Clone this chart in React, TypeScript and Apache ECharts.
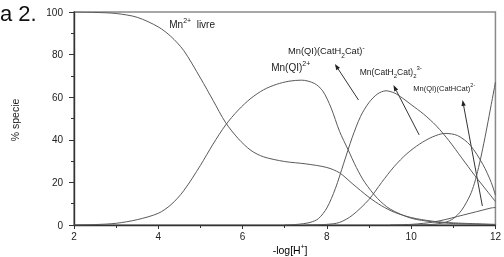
import React, { useEffect, useRef } from "react";
import * as echarts from "echarts";

// x: -log[H+], y: % specie
const phFree = [2, 2.5, 3, 3.5, 4, 4.3, 4.6, 5, 5.3, 5.6, 5.9, 6.2, 6.5, 7, 7.5, 8, 8.3, 8.6, 9, 9.3, 9.6, 10, 10.5, 11, 12];
const valFree = [100, 99.8, 99.3, 97.5, 93, 88.5, 82, 69, 58.5, 48, 40.5, 35, 32, 29.8, 28.7, 27, 24.5, 19.5, 13, 9, 6, 3.5, 1.8, 1, 0.3];

const phQI = [2, 2.5, 3, 3.5, 4, 4.3, 4.6, 5, 5.3, 5.6, 5.9, 6.2, 6.5, 6.8, 7.1, 7.4, 7.7, 7.9, 8.1, 8.3, 8.5, 8.7, 8.9, 9.2, 9.5, 10, 10.5, 11, 12];
const valQI = [0, 0.2, 0.8, 2.5, 5.5, 9.5, 16, 28, 38, 47, 54, 59.5, 63.5, 66, 67.5, 68, 66.5, 63, 55, 44, 35.5, 27, 20, 12.5, 7.5, 3.2, 1.5, 0.7, 0.2];

const phQICat = [7, 7.3, 7.6, 7.8, 8, 8.2, 8.4, 8.6, 8.8, 9, 9.2, 9.4, 9.6, 9.8, 10, 10.3, 10.6, 10.9, 11.2, 11.5, 11.8, 12];
const valQICat = [0, 0.3, 1.2, 3, 8, 17, 29, 41, 51, 57.5, 61.5, 63, 62, 59.5, 56.5, 52, 46.5, 39.5, 31.5, 23.5, 16, 11];

const phCat2 = [7.5, 8, 8.3, 8.6, 9, 9.3, 9.6, 9.9, 10.2, 10.5, 10.8, 11.1, 11.4, 11.7, 11.9, 12];
const valCat2 = [0, 0.3, 1.2, 4.5, 12, 20, 27.5, 33.5, 38, 41.3, 43, 42, 37.5, 28.5, 20, 14];

const phSteep = [10, 10.5, 10.8, 11, 11.2, 11.4, 11.5, 11.6, 11.7, 11.8, 11.9, 12];
const valSteep = [0, 0.3, 1.2, 3, 7, 14, 19.5, 27, 36, 46, 56.5, 67];

const phCatHCat = [9.5, 10, 10.3, 10.5, 10.8, 11.1, 11.4, 11.7, 11.9, 12];
const valCatHCat = [0, 0.3, 0.8, 1.3, 2.5, 4, 5.5, 7, 8, 8.2];

const xTickValues = [2, 4, 6, 8, 10, 12];
const yTickValues = [0, 20, 40, 60, 80, 100];

// annotation anchors in data coordinates [pH, %]
const labelAnchors = [
  { text: "{b11|Mn}{sup11|2+}{b11|  livre}", at: [4.26, 94.2] },
  { text: "{b11|Mn(QI)}{sup11|2+}", at: [6.68, 74] },
  { text: "{b9|Mn(QI)(CatH}{sub9|2}{b9|Cat)}{sup9|-}", at: [7.08, 81.5] },
  { text: "{b8|Mn(CatH}{sub8|2}{b8|Cat)}{sub8|2}{sup8|3-}", at: [8.78, 71.8] },
  { text: "{b7|Mn(QI)(CatHCat)}{sup7|2-}", at: [10.05, 64.3] },
];
const arrows = [
  { head: [8.19, 75.6], tail: [8.75, 58.7] },
  { head: [9.58, 65.7], tail: [10.19, 42.3] },
  { head: [11.22, 58.7], tail: [11.69, 8.9] },
];

const pairs = (xs: number[], ys: number[]) => xs.map((x, i) => [x, ys[i]]);

export default function App() {
  const ref = useRef<HTMLDivElement>(null);
  useEffect(() => {
    if (!ref.current) return;
    const chart = echarts.init(ref.current, undefined, { renderer: "svg" });
    const font = "'Liberation Sans', Arial, sans-serif";
    const lineStyle = { color: "#5a5a5a", width: 1 };
    const mk = (name: string, xs: number[], ys: number[]) => ({
      name,
      type: "line",
      data: pairs(xs, ys),
      showSymbol: false,
      symbol: "none",
      smooth: 0.3,
      lineStyle,
      clip: true,
      silent: true,
    });
    chart.setOption({
      animation: false,
      grid: {
        left: 74,
        right: 5,
        top: 12,
        bottom: 32,
        show: true,
        borderColor: "#8a8a8a",
        borderWidth: 1.5,
        backgroundColor: "transparent",
      },
      xAxis: {
        type: "value",
        min: 2,
        max: 12,
        interval: 2,
        axisLine: { show: true, onZero: false, lineStyle: { color: "#333", width: 1.4 } },
        axisTick: { show: true, inside: false, length: 4, lineStyle: { color: "#333" } },
        minorTick: { show: true, splitNumber: 2, length: 3, lineStyle: { color: "#333" } },
        splitLine: { show: false },
        axisLabel: {
          margin: 6,
          fontSize: 10,
          color: "#222",
          fontFamily: font,
          formatter: (v: number) => (xTickValues.includes(v) ? String(v) : ""),
        },
      },
      yAxis: {
        type: "value",
        min: 0,
        max: 100,
        interval: 20,
        axisLine: { show: true, onZero: false, lineStyle: { color: "#333", width: 1.4 } },
        axisTick: { show: true, inside: false, length: 5, lineStyle: { color: "#333" } },
        minorTick: { show: true, splitNumber: 2, length: 3, lineStyle: { color: "#333" } },
        splitLine: { show: false },
        axisLabel: {
          margin: 11,
          fontSize: 10,
          color: "#222",
          fontFamily: font,
          formatter: (v: number) => (yTickValues.includes(v) ? String(v) : ""),
        },
      },
      series: [
        mk("Mn2+ livre", phFree, valFree),
        mk("Mn(QI)2+", phQI, valQI),
        mk("Mn(QI)(CatH2Cat)-", phQICat, valQICat),
        mk("Mn(CatH2Cat)2 3-", phCat2, valCat2),
        mk("steep", phSteep, valSteep),
        mk("Mn(QI)(CatHCat)2-", phCatHCat, valCatHCat),
      ],
    });

    const px = (p: number[]) => chart.convertToPixel({ gridIndex: 0 }, p) as number[];
    const tok = (size: number, lh: number, va: string) => ({
      fontSize: size,
      fontFamily: font,
      color: "#1a1a1a",
      lineHeight: lh,
      verticalAlign: va,
    });
    const rich: any = {
      b11: tok(10, 15, "middle"),
      sup11: tok(7, 15, "top"),
      b9: tok(9.3, 15, "middle"),
      sub9: tok(6.5, 15, "bottom"),
      sup9: tok(6.5, 15, "top"),
      b8: tok(8.5, 14, "middle"),
      sub8: tok(6, 14, "bottom"),
      sup8: tok(6, 14, "top"),
      b7: tok(7.5, 13, "middle"),
      sup7: tok(5.5, 13, "top"),
    };
    const graphics: any[] = [];
    labelAnchors.forEach((l) => {
      const [x, y] = px(l.at);
      graphics.push({
        type: "text",
        x,
        y,
        silent: true,
        style: { text: l.text, rich, align: "left", verticalAlign: "middle", fill: "#1a1a1a" },
      });
    });
    arrows.forEach((a) => {
      const [hx, hy] = px(a.head);
      const [tx, ty] = px(a.tail);
      const dx = hx - tx;
      const dy = hy - ty;
      const len = Math.sqrt(dx * dx + dy * dy);
      const ux = dx / len;
      const uy = dy / len;
      const hl = 6;
      const hw = 2.2;
      const bx = hx - ux * hl;
      const by = hy - uy * hl;
      graphics.push({
        type: "line",
        silent: true,
        shape: { x1: tx, y1: ty, x2: bx, y2: by },
        style: { stroke: "#333", lineWidth: 1 },
      });
      graphics.push({
        type: "polygon",
        silent: true,
        shape: {
          points: [
            [hx, hy],
            [bx - uy * hw, by + ux * hw],
            [bx + uy * hw, by - ux * hw],
          ],
        },
        style: { fill: "#222" },
      });
    });
    // title fragment, axis names
    graphics.push({
      type: "text",
      left: 0,
      top: 2,
      silent: true,
      style: { text: "a 2.", fontSize: 22, fontFamily: font, fill: "#111" },
    });
    graphics.push({
      type: "text",
      x: 15,
      y: 120,
      rotation: Math.PI / 2,
      silent: true,
      style: { text: "% specie", fontSize: 10.5, fontFamily: font, fill: "#222", align: "center", verticalAlign: "middle" },
    });
    graphics.push({
      type: "text",
      x: 290,
      y: 250,
      silent: true,
      style: {
        text: "{b|-log[H}{sup|+}{b|]}",
        rich: {
          b: { fontSize: 10.5, fontFamily: font, color: "#222", lineHeight: 15, verticalAlign: "middle" },
          sup: { fontSize: 6.5, fontFamily: font, color: "#222", lineHeight: 15, verticalAlign: "top" },
        },
        align: "center",
        verticalAlign: "middle",
      },
    });
    chart.setOption({ graphic: graphics });
    return () => chart.dispose();
  }, []);
  return <div ref={ref} style={{ position: "fixed", left: 0, top: 0, width: 504, height: 257 }} />;
}
